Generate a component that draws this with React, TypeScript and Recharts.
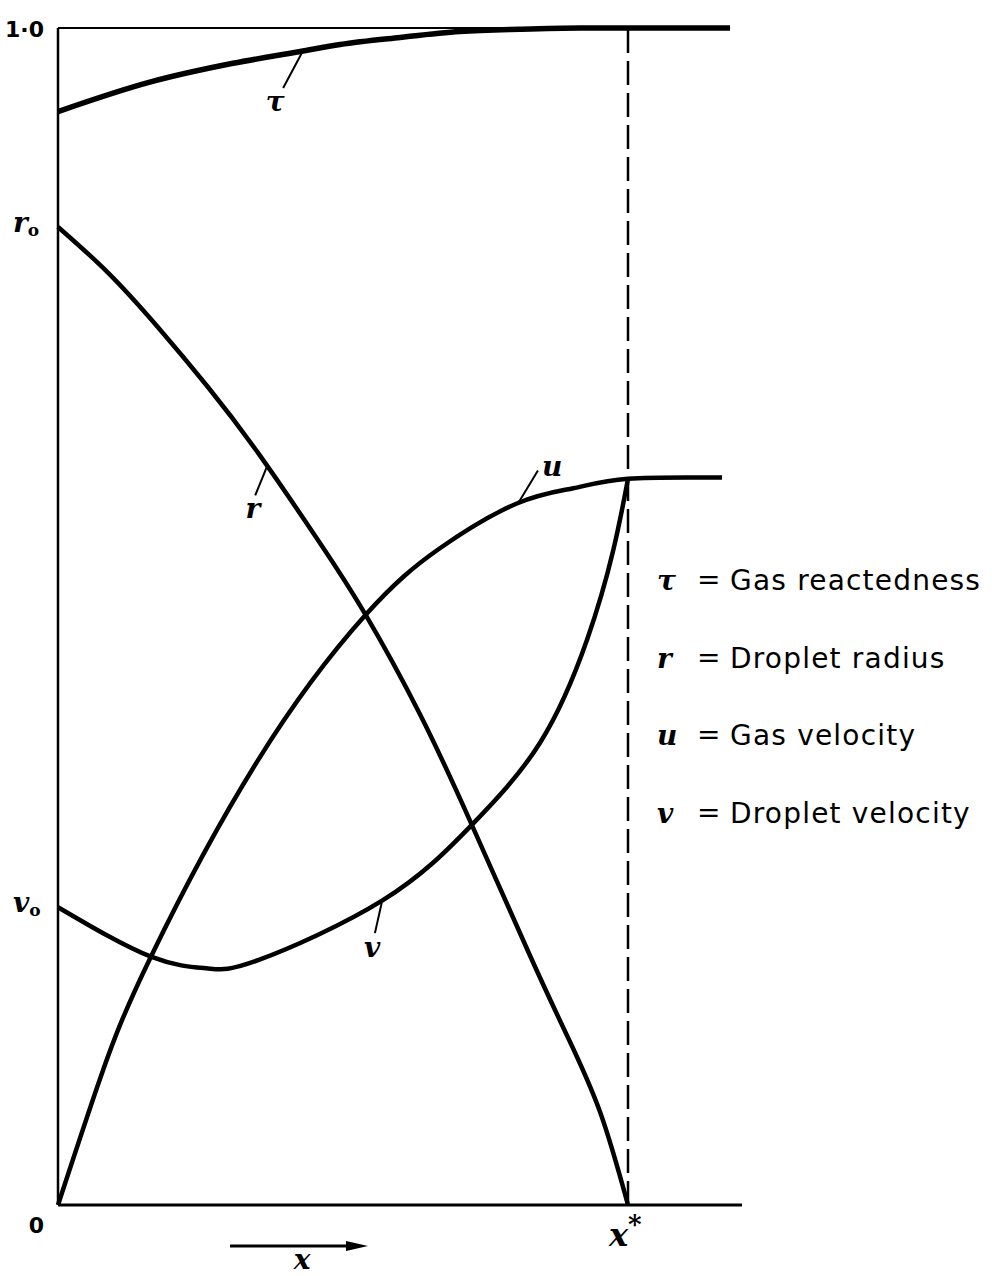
import React from 'react';
import { LineChart, Line, XAxis, YAxis, ReferenceLine, ReferenceDot } from 'recharts';

// distance along the duct, x* = 1
const TAU_X = [0, 0.161, 0.307, 0.425, 0.495, 0.6, 0.705, 0.811, 0.916, 1.179];
const TAU_Y = [0.929, 0.954, 0.97, 0.98, 0.986, 0.992, 0.997, 0.999, 1.0, 1.0];

const R_X = [0, 0.088, 0.175, 0.263, 0.351, 0.456, 0.539, 0.635, 0.726, 0.828, 0.893, 0.951, 1];
const R_Y = [0.831, 0.792, 0.746, 0.695, 0.639, 0.565, 0.502, 0.417, 0.323, 0.212, 0.144, 0.079, 0];

const U_X = [0, 0.075, 0.163, 0.351, 0.539, 0.67, 0.805, 0.904, 1, 1.165];
const U_Y = [0, 0.109, 0.211, 0.378, 0.501, 0.558, 0.596, 0.609, 0.617, 0.618];

const V_X = [0, 0.163, 0.263, 0.351, 0.57, 0.726, 0.846, 0.928, 0.974, 1];
const V_Y = [0.253, 0.211, 0.201, 0.208, 0.259, 0.323, 0.393, 0.48, 0.556, 0.617];

const R0 = R_Y[0];
const V0 = V_Y[0];
const X_STAR = 1;
const Y_TICKS = [0, V0, R0, 1];

const LEGEND = [
  { sym: 'τ', text: 'Gas reactedness' },
  { sym: 'r', text: 'Droplet radius' },
  { sym: 'u', text: 'Gas velocity' },
  { sym: 'v', text: 'Droplet velocity' },
];

// curve labels: where the leader leaves the curve, where it ends, where the symbol sits
const CURVE_LABELS = [
  { sym: 'τ', from: [0.428, 0.979], to: [0.395, 0.949], at: [0.381, 0.936] },
  { sym: 'r', from: [0.368, 0.629], to: [0.346, 0.603], at: [0.342, 0.59] },
  { sym: 'u', from: [0.807, 0.596], to: [0.842, 0.624], at: [0.867, 0.626] },
  { sym: 'v', from: [0.568, 0.257], to: [0.556, 0.231], at: [0.551, 0.217] },
];

const zip = (xs: number[], ys: number[]) => xs.map((x, i) => ({ x, y: ys[i] }));

const tauData = zip(TAU_X, TAU_Y);
const rData = zip(R_X, R_Y);
const uData = zip(U_X, U_Y);
const vData = zip(V_X, V_Y);

const mathFont: React.CSSProperties = {
  fontFamily: '"DejaVu Serif", serif',
  fontStyle: 'italic',
  fontWeight: 700,
  fontSize: 28,
  fill: '#000',
};
const digitFont: React.CSSProperties = {
  fontFamily: '"DejaVu Sans", sans-serif',
  fontWeight: 700,
  fontSize: 22,
  fill: '#000',
};
const legendFont: React.CSSProperties = {
  fontFamily: '"DejaVu Sans", sans-serif',
  fontSize: 28,
  letterSpacing: 1.2,
  fill: '#000',
};

function YTick({ x, y, payload }: any) {
  const v = payload.value;
  if (v === 1) {
    return <text x={x - 14} y={y + 9} textAnchor="end" style={digitFont}>1·0</text>;
  }
  if (v === 0) {
    return <text x={x - 14} y={y + 28} textAnchor="end" style={digitFont}>0</text>;
  }
  const sym = v === R0 ? 'r' : 'v';
  return (
    <text x={x - 45} y={y + 5} style={mathFont}>
      {sym}
      <tspan dy={4} style={{ fontSize: 17, fontStyle: 'normal' }}>o</tspan>
    </text>
  );
}

function XTick({ x, y, payload }: any) {
  if (payload.value !== X_STAR) return null;
  return (
    <text x={x - 19} y={y + 41} style={{ ...mathFont, fontSize: 32 }}>
      x
      <tspan dy={-13} style={{ fontSize: 26, fontStyle: 'normal' }}>*</tspan>
    </text>
  );
}

function AxisArrow({ viewBox }: any) {
  const { x, y } = viewBox;
  const y0 = y + 41;
  return (
    <g>
      <line x1={x + 172} y1={y0} x2={x + 292} y2={y0} stroke="#000" strokeWidth={3} />
      <polygon points={`${x + 310},${y0} ${x + 288},${y0 - 5} ${x + 288},${y0 + 5}`} fill="#000" />
      <text x={x + 244} y={y0 + 23} textAnchor="middle" style={{ ...mathFont, fontSize: 28 }}>x</text>
    </g>
  );
}

const symbolAt = (sym: string) => (p: any) => (
  <text x={p.cx} y={p.cy} textAnchor="middle" dominantBaseline="middle" style={mathFont}>
    {sym}
  </text>
);

export default function App() {
  return (
    <div style={{ position: 'absolute', left: 0, top: 0, width: 992, height: 1276, background: '#fff' }}>
      <LineChart width={992} height={1276} margin={{ top: 28, right: 250, bottom: 0, left: 0 }}>
        <XAxis
          type="number"
          dataKey="x"
          domain={[0, 1.2]}
          ticks={[X_STAR]}
          tick={<XTick />}
          tickLine={false}
          tickSize={0}
          tickMargin={0}
          height={71}
          axisLine={{ stroke: '#000', strokeWidth: 3 }}
          label={{ content: AxisArrow }}
        />
        <YAxis
          type="number"
          dataKey="y"
          domain={[0, 1]}
          ticks={Y_TICKS}
          tick={<YTick />}
          tickLine={false}
          tickSize={0}
          tickMargin={0}
          width={58}
          axisLine={{ stroke: '#000', strokeWidth: 2.5 }}
        />
        <ReferenceLine
          segment={[{ x: 0, y: 1 }, { x: 1.179, y: 1 }]}
          stroke="#000"
          strokeWidth={2}
          ifOverflow="visible"
        />
        <ReferenceLine x={X_STAR} stroke="#000" strokeWidth={2.5} strokeDasharray="24 8" ifOverflow="visible" />

        <Line data={tauData} dataKey="y" type="monotone" stroke="#000" strokeWidth={5.5} dot={false} isAnimationActive={false} />
        <Line data={rData} dataKey="y" type="natural" stroke="#000" strokeWidth={4.5} dot={false} isAnimationActive={false} />
        <Line data={uData} dataKey="y" type="natural" stroke="#000" strokeWidth={4.5} dot={false} isAnimationActive={false} />
        <Line data={vData} dataKey="y" type="natural" stroke="#000" strokeWidth={4.5} dot={false} isAnimationActive={false} />

        {CURVE_LABELS.map((c) => (
          <ReferenceLine
            key={`lead-${c.sym}`}
            segment={[{ x: c.from[0], y: c.from[1] }, { x: c.to[0], y: c.to[1] }]}
            stroke="#000"
            strokeWidth={2}
            ifOverflow="visible"
          />
        ))}
        {CURVE_LABELS.map((c) => (
          <ReferenceDot
            key={`sym-${c.sym}`}
            x={c.at[0]}
            y={c.at[1]}
            r={0}
            ifOverflow="visible"
            shape={symbolAt(c.sym)}
          />
        ))}
      </LineChart>

      <svg width={992} height={1276} style={{ position: 'absolute', left: 0, top: 0, pointerEvents: 'none' }}>
        {LEGEND.map((row, i) => {
          const base = 590 + i * 77.7;
          return (
            <g key={row.text}>
              <text x={657} y={base} style={mathFont}>{row.sym}</text>
              <text x={697} y={base - 1} style={{ ...legendFont, letterSpacing: 0 }}>=</text>
              <text x={730} y={base} style={legendFont}>{row.text}</text>
            </g>
          );
        })}
      </svg>
    </div>
  );
}
